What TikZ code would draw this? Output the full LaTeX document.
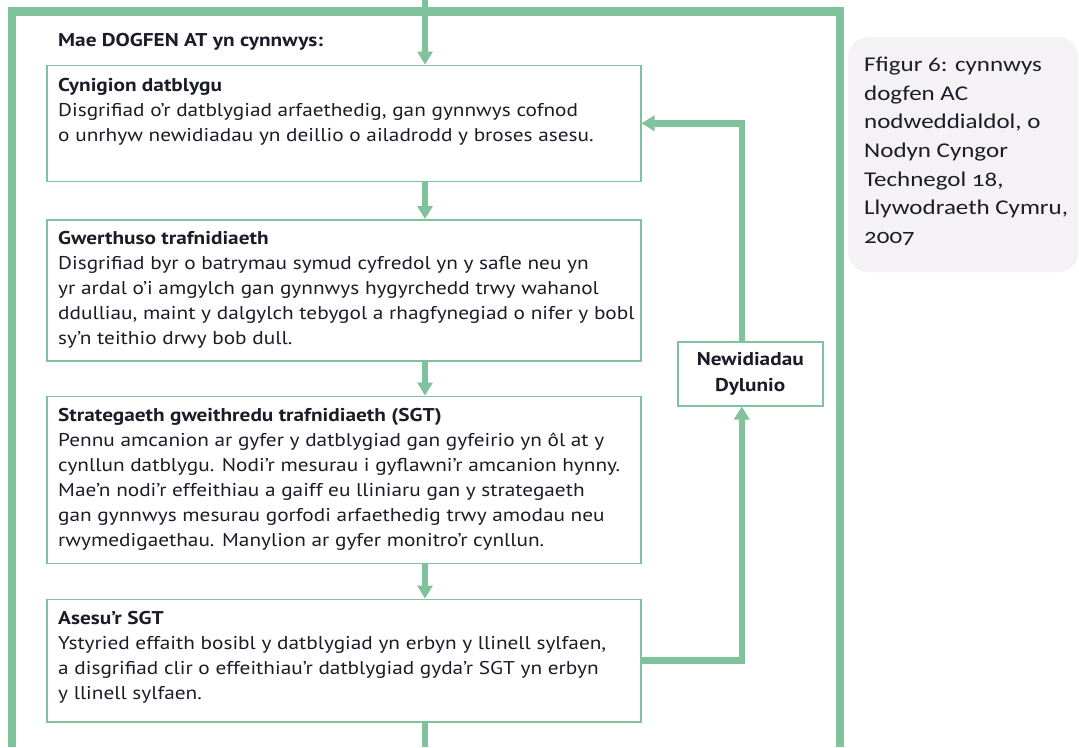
\documentclass[tikz,border=0pt]{standalone}
\usepackage{fontspec}
\setmainfont{PT Sans}[FakeStretch=1.15]
\newfontfamily\capfont{Carlito}[Numbers=OldStyle,FakeStretch=1.19]
\usetikzlibrary{arrows.meta}
\definecolor{grn}{HTML}{7FC29B}
\definecolor{txtc}{HTML}{1C1C28}
\definecolor{capfill}{HTML}{F4F2F5}
\begin{document}
\begin{tikzpicture}[x=1pt,y=-1pt,
  frame/.style={draw=grn, line width=8.5pt, line join=miter},
  flow/.style={draw=grn, line width=6.5pt, -{Triangle[width=15pt,length=13pt]}},
  link/.style={draw=grn, line width=6.5pt},
  box/.style={draw=grn, line width=1.5pt, fill=white, anchor=north west, inner sep=0pt, minimum width=594pt},
  body/.style={anchor=base west, inner sep=0pt, align=left, text=txtc, font=\fontsize{18.5}{25}\selectfont},
  ndbox/.style={draw=grn, line width=1.5pt, fill=white, anchor=north west, inner sep=0pt,
    minimum width=145pt, minimum height=64pt, align=center, text=txtc, font=\fontsize{18.5}{26}\selectfont\bfseries},
  capbox/.style={fill=capfill, draw=none, rounded corners=20pt, anchor=north west, inner sep=0pt,
    minimum width=230pt, minimum height=235pt},
  captext/.style={anchor=base west, inner sep=0pt, align=left, text=txtc, font=\capfont\fontsize{21}{28.7}\selectfont}
]
\useasboundingbox (0,0) rectangle (1079,747);
\fill[white] (0,0) rectangle (1079,747);

% outer frame
\coordinate (fbl) at (12,747);
\coordinate (ftl) at (12,11.5);
\coordinate (ftr) at (840,11.5);
\coordinate (fbr) at (840,747);
\draw[frame] (fbl) -- (ftl) -- (ftr) -- (fbr);

% caption (anchor = baseline of last line)
\node[capbox] (cap) at (848,37) {};
\node[captext] (captxt) at (864,243.5) {Ffigur 6: cynnwys\\dogfen AC\\nodweddialdol, o\\Nodyn Cyngor\\Technegol 18,\\Llywodraeth Cymru,\\2007};

% title
\node[body, font=\fontsize{18.5}{25}\selectfont\bfseries] (title) at (58,46) {Mae DOGFEN AT yn cynnwys:};

% boxes
\node[box, minimum height=116pt] (b1) at (46,64.5) {};
\node[box, minimum height=141pt] (b2) at (46,219) {};
\node[box, minimum height=167pt] (b3) at (46,395.5) {};
\node[box, minimum height=122.5pt] (b4) at (46,598.5) {};
\node[ndbox] (nd) at (677,341) {Newidiadau\\Dylunio};

% box texts (anchor = baseline of last line)
\node[body] (t1) at (58,141) {\textbf{Cynigion datblygu}\\
Disgrifiad o’r datblygiad arfaethedig, gan gynnwys cofnod\\
o unrhyw newidiadau yn deillio o ailadrodd y broses asesu.};
\node[body] (t2) at (58,344.5) {\textbf{Gwerthuso trafnidiaeth}\\
Disgrifiad byr o batrymau symud cyfredol yn y safle neu yn\\
yr ardal o’i amgylch gan gynnwys hygyrchedd trwy wahanol\\
ddulliau, maint y dalgylch tebygol a rhagfynegiad o nifer y bobl\\
sy’n teithio drwy bob dull.};
\node[body] (t3) at (58,546.5) {\textbf{Strategaeth gweithredu trafnidiaeth (SGT)}\\
Pennu amcanion ar gyfer y datblygiad gan gyfeirio yn ôl at y\\
cynllun datblygu. Nodi’r mesurau i gyflawni’r amcanion hynny.\\
Mae’n nodi’r effeithiau a gaiff eu lliniaru gan y strategaeth\\
gan gynnwys mesurau gorfodi arfaethedig trwy amodau neu\\
rwymedigaethau. Manylion ar gyfer monitro’r cynllun.};
\node[body] (t4) at (58,699) {\textbf{Asesu’r SGT}\\
Ystyried effaith bosibl y datblygiad yn erbyn y llinell sylfaen,\\
a disgrifiad clir o effeithiau’r datblygiad gyda’r SGT yn erbyn\\
y llinell sylfaen.};

% main flow
\coordinate (top) at (425,0);
\coordinate (bot) at (425,747);
\draw[flow] (top) -- (b1.north -| top);
\draw[flow] (b1.south -| top) -- (b2.north -| top);
\draw[flow] (b2.south -| top) -- (b3.north -| top);
\draw[flow] (b3.south -| top) -- (b4.north -| top);
\draw[link] (b4.south -| top) -- (bot);

% feedback loop
\draw[flow] (b4.east) -| ([xshift=-8.5pt]nd.south);
\draw[flow] ([xshift=-8.5pt]nd.north) |- (b1.east);
\end{tikzpicture}
\end{document}
